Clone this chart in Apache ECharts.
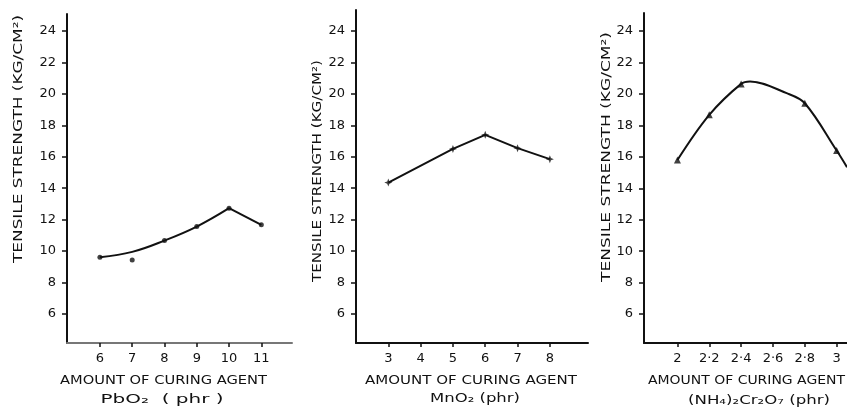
<!DOCTYPE html>
<html>
<head>
<meta charset="utf-8">
<title>Tensile strength vs curing agent</title>
<script src="https://cdn.jsdelivr.net/npm/echarts@6/dist/echarts.min.js"></script>
<style>
  html, body { margin: 0; padding: 0; background: #fff; }
  #chart { width: 847px; height: 414px; }
</style>
</head>
<body>
<div id="chart"></div>
<script>
// ---- data: tensile strength (kg/cm²) vs amount of curing agent (phr) ----
const yTicks = [6, 8, 10, 12, 14, 16, 18, 20, 22, 24];

// PbO2
const pbX = [6, 7, 8, 9, 10, 11];
const pbY = [9.61, 9.44, 10.67, 11.56, 12.73, 11.67];
const pbCurveX = [6, 7, 8, 9, 10];
const pbCurveY = [9.61, 9.95, 10.67, 11.56, 12.73];
const pbTailX = [10, 11];
const pbTailY = [12.73, 11.67];
const pbTicks = [6, 7, 8, 9, 10, 11];

// MnO2
const mnX = [3, 5, 6, 7, 8];
const mnY = [14.36, 16.5, 17.4, 16.55, 15.85];
const mnTicks = [3, 4, 5, 6, 7, 8];

// (NH4)2Cr2O7
const crX = [2, 2.2, 2.4, 2.8, 3];
const crY = [15.8, 18.67, 20.64, 19.41, 16.4];
const crCurveX = [2, 2.2, 2.4, 2.456, 2.686, 2.8, 3, 3.065];
const crCurveY = [15.8, 18.67, 20.64, 20.79, 20.05, 19.41, 16.4, 15.34];
const crTicks = [2, 2.2, 2.4, 2.6, 2.8, 3];

const yTitle = 'TENSILE STRENGTH (KG/CM²)';
const xTitle = 'AMOUNT OF CURING AGENT';
const agents = ['PbO₂  ( phr )', 'MnO₂ (phr)', '(NH₄)₂Cr₂O₇ (phr)'];

const zip = (xs, ys) => xs.map((x, i) => [x, ys[i]]);

const INK = '#111';
const FONT = 'DejaVu Sans';

// measure text so titles can be stretched to their drawn length
const ctx = document.createElement('canvas').getContext('2d');
function textWidth(str, size) {
  ctx.font = size + 'px "' + FONT + '"';
  return ctx.measureText(str).width;
}
function stretchedText(str, cx, cy, len, size, rotate) {
  const s = len / textWidth(str, size);
  return {
    type: 'text', x: cx, y: cy, rotation: rotate ? Math.PI / 2 : 0,
    scaleX: s, scaleY: 1, silent: true,
    style: { text: str, fill: INK, font: size + 'px "' + FONT + '"',
             textAlign: 'center', textVerticalAlign: 'middle' }
  };
}

const grids = [
  { left: 67, top: 14, width: 225, height: 329 },
  { left: 356, top: 10, width: 232, height: 333 },
  { left: 644, top: 13, width: 203, height: 330 }
];
const yRanges = [[4.155, 25.08], [4.155, 25.34], [4.155, 25.15]];
const xRanges = [[4.98, 11.95], [2, 9.18], [1.79, 3.065]];
const xTickSets = [pbTicks, mnTicks, crTicks];

const fmtX = v => (Math.abs(v - Math.round(v)) < 1e-9 ? String(Math.round(v)) : v.toFixed(1).replace('.', '·'));

const xAxes = grids.map((g, i) => ({
  type: 'value', gridIndex: i, min: xRanges[i][0], max: xRanges[i][1],
  splitLine: { show: false },
  axisLine: { show: true, lineStyle: { color: i === 0 ? '#777' : INK, width: 2 } },
  axisTick: { show: true, inside: false, length: 4, customValues: xTickSets[i],
              lineStyle: { color: INK, width: 1.5 } },
  axisLabel: { customValues: xTickSets[i], formatter: fmtX, margin: 9,
               color: INK, fontFamily: FONT, fontSize: 13 }
}));

const yAxes = grids.map((g, i) => ({
  type: 'value', gridIndex: i, min: yRanges[i][0], max: yRanges[i][1],
  splitLine: { show: false },
  axisLine: { show: true, lineStyle: { color: INK, width: 2 } },
  axisTick: { show: true, inside: false, length: 5, customValues: yTicks,
              lineStyle: { color: INK, width: 1.5 } },
  axisLabel: { customValues: yTicks, margin: 11, color: INK,
               fontFamily: FONT, fontSize: 13 }
}));

const lineStyle = { color: INK, width: 2 };
const starPath = 'path://M0,-5L1.4,-1.4L5,0L1.4,1.4L0,5L-1.4,1.4L-5,0L-1.4,-1.4Z';

const series = [
  // PbO2
  { type: 'line', xAxisIndex: 0, yAxisIndex: 0, data: zip(pbCurveX, pbCurveY),
    smooth: 0.4, showSymbol: false, lineStyle },
  { type: 'line', xAxisIndex: 0, yAxisIndex: 0, data: zip(pbTailX, pbTailY),
    showSymbol: false, lineStyle },
  { type: 'scatter', xAxisIndex: 0, yAxisIndex: 0, data: zip(pbX, pbY),
    symbol: 'circle', symbolSize: 5, itemStyle: { color: INK } },
  // MnO2
  { type: 'line', xAxisIndex: 1, yAxisIndex: 1, data: zip(mnX, mnY),
    showSymbol: false, lineStyle },
  { type: 'scatter', xAxisIndex: 1, yAxisIndex: 1, data: zip(mnX, mnY),
    symbol: starPath, symbolSize: 8, itemStyle: { color: INK } },
  // (NH4)2Cr2O7
  { type: 'line', xAxisIndex: 2, yAxisIndex: 2, data: zip(crCurveX, crCurveY),
    smooth: 0.35, showSymbol: false, lineStyle, clip: true },
  { type: 'scatter', xAxisIndex: 2, yAxisIndex: 2, data: zip(crX, crY),
    symbol: 'triangle', symbolSize: 7, itemStyle: { color: INK } }
];

const graphic = [
  stretchedText(yTitle, 18.5, 139, 248, 13, true),
  stretchedText(yTitle, 318, 171, 222, 13, true),
  stretchedText(yTitle, 607, 157, 250, 13, true),
  stretchedText(xTitle, 163.5, 381, 207, 13, false),
  stretchedText(xTitle, 471, 381, 212, 13, false),
  stretchedText(xTitle, 746.5, 380.5, 197, 13, false),
  stretchedText(agents[0], 162, 400, 123, 13, false),
  stretchedText(agents[1], 475, 399, 90, 13, false),
  stretchedText(agents[2], 759, 401, 142, 13, false)
];

const chart = echarts.init(document.getElementById('chart'), null, { renderer: 'canvas' });
chart.setOption({
  animation: false,
  backgroundColor: '#fff',
  grid: grids,
  xAxis: xAxes,
  yAxis: yAxes,
  series,
  graphic
});
</script>
</body>
</html>
